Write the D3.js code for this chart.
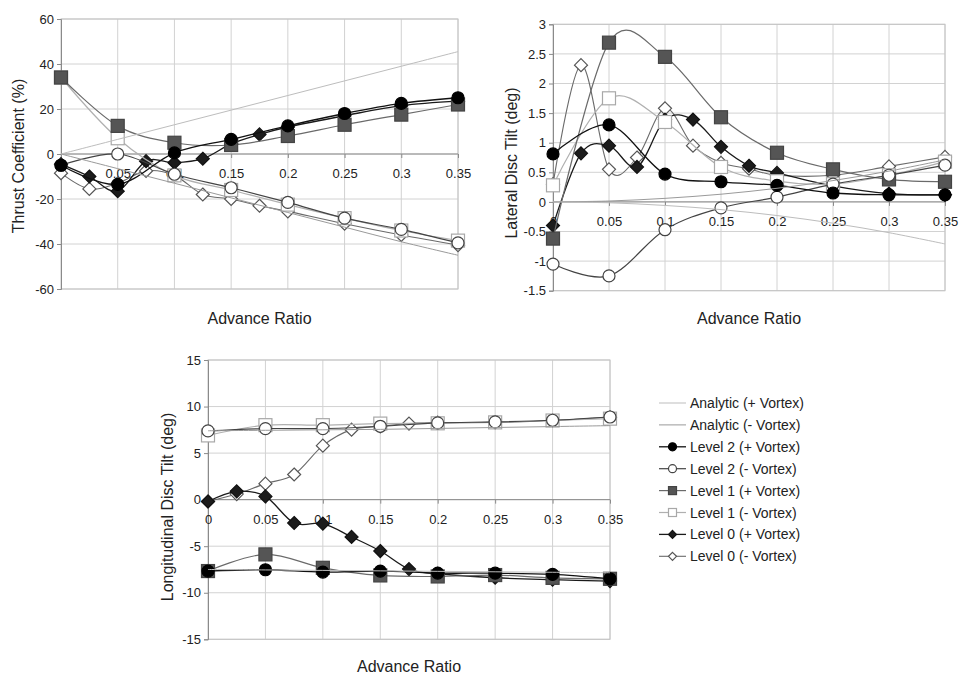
<!DOCTYPE html>
<html>
<head>
<meta charset="utf-8">
<script src="https://cdn.jsdelivr.net/npm/d3@7"></script>
<style>
  body { margin: 0; background: #fff; }
  svg { display: block; }
  text { font-family: "Liberation Sans", Arial, sans-serif; fill: #222; }
</style>
</head>
<body>
<svg id="chart" width="961" height="675"></svg>
<script>
// Advance ratio sample points
const muCoarse = [0, 0.05, 0.1, 0.15, 0.2, 0.25, 0.3, 0.35];
const muFine = [0, 0.025, 0.05, 0.075, 0.1, 0.125, 0.15, 0.175, 0.2, 0.25, 0.3, 0.35];
const xTicks = [0, 0.05, 0.1, 0.15, 0.2, 0.25, 0.3, 0.35];
const xTickLabels = ["0", "0.05", "0.1", "0.15", "0.2", "0.25", "0.3", "0.35"];

const seriesNames = [
  "Analytic (+ Vortex)", "Analytic (- Vortex)",
  "Level 2 (+ Vortex)", "Level 2 (- Vortex)",
  "Level 1 (+ Vortex)", "Level 1 (- Vortex)",
  "Level 0 (+ Vortex)", "Level 0 (- Vortex)"
];

// Thrust coefficient (%)
const thrustAnalyticPos = [0, 6.5, 13, 19.5, 26, 32.5, 39, 45.5];
const thrustAnalyticNeg = [0, -6.5, -13, -19.5, -26, -32.5, -39, -45];
const thrustL2Pos = [-5, -13.5, 0.5, 6.5, 12.5, 18, 22.5, 25];
const thrustL2Neg = [-5, 0, -9, -15, -21.5, -28.5, -33.5, -39.5];
const thrustL1Pos = [34, 12.5, 5, 4, 8, 13, 17.5, 22];
const thrustL1Neg = [34, 7, -9.5, -16, -22.5, -28.5, -34, -38.5];
const thrustL0Pos = [-4.5, -10, -16.5, -3.2, -3.9, -2.1, 4.5, 8.7, 12, 17, 21.5, 23.5];
const thrustL0Neg = [-8.5, -15.5, -13, -7.5, -9.5, -18, -20, -23, -25.5, -31, -36, -40.5];

// Lateral disc tilt (deg)
const latAnalyticPos = [0, -0.015, -0.06, -0.13, -0.23, -0.36, -0.52, -0.71];
const latAnalyticNeg = [0, 0.015, 0.06, 0.13, 0.23, 0.36, 0.52, 0.71];
const latL2Pos = [0.81, 1.3, 0.47, 0.34, 0.28, 0.15, 0.12, 0.12];
const latL2Neg = [-1.05, -1.25, -0.47, -0.1, 0.08, 0.3, 0.45, 0.62];
const latL1Pos = [-0.62, 2.69, 2.45, 1.43, 0.83, 0.55, 0.38, 0.34];
const latL1Neg = [0.28, 1.75, 1.35, 0.59, 0.35, 0.3, 0.45, 0.68];
const latL0Pos = [-0.4, 0.82, 0.95, 0.59, 1.39, 1.39, 0.93, 0.61, 0.49, 0.27, 0.14, 0.12];
const latL0Neg = [0.3, 2.31, 0.55, 0.75, 1.58, 0.95, 0.66, 0.56, 0.45, 0.45, 0.6, 0.76];

// Longitudinal disc tilt (deg)
const lonAnalyticPos = [-7.5, -7.55, -7.6, -7.65, -7.7, -7.75, -7.8, -7.85];
const lonAnalyticNeg = [7.4, 7.45, 7.5, 7.55, 7.65, 7.75, 7.85, 7.95];
const lonL2Pos = [-7.67, -7.53, -7.78, -7.67, -7.89, -7.9, -8.03, -8.5];
const lonL2Neg = [7.38, 7.63, 7.63, 7.88, 8.24, 8.35, 8.53, 8.88];
const lonL1Pos = [-7.67, -5.88, -7.32, -8.14, -8.25, -8.1, -8.4, -8.5];
const lonL1Neg = [6.9, 8.0, 8.0, 8.17, 8.2, 8.3, 8.5, 8.7];
const lonL0Pos = [-0.2, 0.89, 0.35, -2.51, -2.58, -4.0, -5.52, -7.46, -7.96, -8.39, -8.6, -8.75];
const lonL0Neg = [-0.2, 0.6, 1.72, 2.7, 5.8, 7.52, 7.88, 8.17, 8.27, 8.3, 8.5, 8.85];

const thrustTicks = [-60, -40, -20, 0, 20, 40, 60];
const latTicks = [-1.5, -1, -0.5, 0, 0.5, 1, 1.5, 2, 2.5, 3];
const lonTicks = [-15, -10, -5, 0, 5, 10, 15];

// Per-series appearance, in legend order
const styles = [
  { line: "#bdbdbd", width: 1,   marker: null },
  { line: "#9a9a9a", width: 1,   marker: null },
  { line: "#111",    width: 1.3, marker: "circle",  fill: "#000",  stroke: "#000" },
  { line: "#444",    width: 1.2, marker: "circle",  fill: "#fff",  stroke: "#444" },
  { line: "#6a6a6a", width: 1.2, marker: "square",  fill: "#555",  stroke: "#444" },
  { line: "#b0b0b0", width: 1.2, marker: "square",  fill: "#fff",  stroke: "#a8a8a8" },
  { line: "#1a1a1a", width: 1.3, marker: "diamond", fill: "#1c1c1c", stroke: "#111" },
  { line: "#6a6a6a", width: 1.1, marker: "diamond", fill: "#fff",  stroke: "#555" }
];

const panels = [
  {
    box: { left: 61, right: 458, top: 19, bottom: 289 },
    domain: [-60, 60], ticks: thrustTicks,
    title: "Thrust Coefficient (%)", titleX: 18, titleY: 156,
    xTitleY: 324,
    series: [thrustAnalyticPos, thrustAnalyticNeg, thrustL2Pos, thrustL2Neg,
             thrustL1Pos, thrustL1Neg, thrustL0Pos, thrustL0Neg]
  },
  {
    box: { left: 553, right: 945, top: 24.3, bottom: 290.7 },
    domain: [-1.5, 3], ticks: latTicks,
    title: "Lateral Disc Tilt (deg)", titleX: 511.5, titleY: 163,
    xTitleY: 324,
    series: [latAnalyticPos, latAnalyticNeg, latL2Pos, latL2Neg,
             latL1Pos, latL1Neg, latL0Pos, latL0Neg]
  },
  {
    box: { left: 208, right: 610, top: 360, bottom: 639.3 },
    domain: [-15, 15], ticks: lonTicks,
    title: "Longitudinal Disc Tilt (deg)", titleX: 167.5, titleY: 507,
    xTitleY: 672,
    series: [lonAnalyticPos, lonAnalyticNeg, lonL2Pos, lonL2Neg,
             lonL1Pos, lonL1Neg, lonL0Pos, lonL0Neg]
  }
];

const svg = d3.select("#chart");

function drawMarker(g, type, cx, cy, size, st) {
  if (type === "circle") {
    g.append("circle").attr("cx", cx).attr("cy", cy).attr("r", size / 2)
      .attr("fill", st.fill).attr("stroke", st.stroke).attr("stroke-width", 1.2);
  } else if (type === "square") {
    g.append("rect").attr("x", cx - size / 2).attr("y", cy - size / 2)
      .attr("width", size).attr("height", size)
      .attr("fill", st.fill).attr("stroke", st.stroke).attr("stroke-width", 1.2);
  } else if (type === "diamond") {
    const h = size / 2;
    g.append("path")
      .attr("d", `M${cx},${cy - h}L${cx + h},${cy}L${cx},${cy + h}L${cx - h},${cy}Z`)
      .attr("fill", st.fill).attr("stroke", st.stroke).attr("stroke-width", 1.2);
  }
}

const markerSize = { circle: 12, square: 13, diamond: 13 };

panels.forEach(p => {
  const b = p.box;
  const x = d3.scaleLinear().domain([0, 0.35]).range([b.left, b.right]);
  const y = d3.scaleLinear().domain(p.domain).range([b.bottom, b.top]);
  const g = svg.append("g");

  // gridlines
  g.append("g").selectAll("line").data(p.ticks).join("line")
    .attr("x1", b.left).attr("x2", b.right)
    .attr("y1", d => y(d)).attr("y2", d => y(d))
    .attr("stroke", "#d2d2d2").attr("stroke-width", 1);
  g.append("g").selectAll("line").data(xTicks.slice(1)).join("line")
    .attr("x1", d => x(d)).attr("x2", d => x(d))
    .attr("y1", b.top).attr("y2", b.bottom)
    .attr("stroke", "#d2d2d2").attr("stroke-width", 1);

  // plot frame
  g.append("rect").attr("x", b.left).attr("y", b.top)
    .attr("width", b.right - b.left).attr("height", b.bottom - b.top)
    .attr("fill", "none").attr("stroke", "#c4c4c4").attr("stroke-width", 1);

  // value axis on the left
  const yAxis = d3.axisLeft(y).tickValues(p.ticks).tickSize(4).tickPadding(3)
    .tickFormat(d => String(d));
  const ya = g.append("g").attr("transform", `translate(${b.left},0)`).call(yAxis);
  ya.select(".domain").attr("stroke", "#8a8a8a");
  ya.selectAll(".tick line").attr("stroke", "#8a8a8a");
  ya.selectAll("text").attr("font-size", 13).attr("fill", "#222")
    .attr("font-family", "'Liberation Sans', Arial, sans-serif");

  // category axis crossing at zero
  const xAxis = d3.axisBottom(x).tickValues(xTicks).tickSize(4).tickPadding(11)
    .tickFormat((d, i) => xTickLabels[i]);
  const xa = g.append("g").attr("transform", `translate(0,${y(0)})`).call(xAxis);
  xa.select(".domain").attr("stroke", "#8a8a8a").attr("d", `M${b.left},0H${b.right}`);
  xa.selectAll(".tick line").attr("stroke", "#8a8a8a");
  xa.selectAll("text").attr("font-size", 13).attr("fill", "#222")
    .attr("font-family", "'Liberation Sans', Arial, sans-serif");

  // axis titles
  g.append("text")
    .attr("transform", `translate(${p.titleX},${p.titleY}) rotate(-90)`)
    .attr("text-anchor", "middle").attr("dominant-baseline", "central")
    .attr("font-size", 16).text(p.title);
  g.append("text")
    .attr("x", (b.left + b.right) / 2).attr("y", p.xTitleY)
    .attr("text-anchor", "middle").attr("font-size", 16).text("Advance Ratio");

  // series: the first series in legend order ends up on top
  const order = d3.range(p.series.length).reverse();
  order.forEach(si => {
    const vals = p.series[si];
    const st = styles[si];
    const mus = vals.length === muFine.length ? muFine : muCoarse;
    const pts = vals.map((v, i) => [mus[i], v]);
    const line = d3.line().x(d => x(d[0])).y(d => y(d[1])).curve(d3.curveCardinal.tension(0));
    const sg = g.append("g");
    sg.append("path").attr("d", line(pts)).attr("fill", "none")
      .attr("stroke", st.line).attr("stroke-width", st.width);
    if (st.marker) {
      pts.forEach(d => drawMarker(sg, st.marker, x(d[0]), y(d[1]), markerSize[st.marker], st));
    }
  });
});

// legend
const legend = svg.append("g");
seriesNames.forEach((name, i) => {
  const st = styles[i];
  const cy = 403 + i * 21.9;
  legend.append("line").attr("x1", 659).attr("x2", 686).attr("y1", cy).attr("y2", cy)
    .attr("stroke", st.line).attr("stroke-width", st.width);
  if (st.marker) {
    drawMarker(legend, st.marker, 672.5, cy, 8, st);
  }
  legend.append("text").attr("x", 690).attr("y", cy)
    .attr("dominant-baseline", "central").attr("font-size", 14).text(name);
});
</script>
</body>
</html>
